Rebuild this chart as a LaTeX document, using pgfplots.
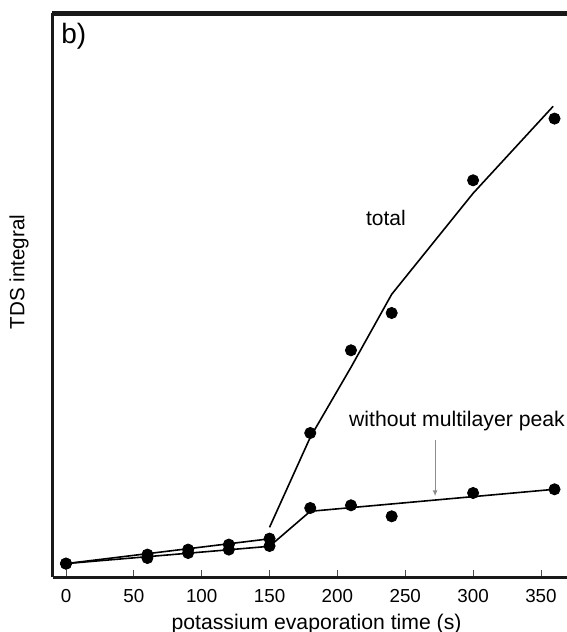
\documentclass[border=0pt]{standalone}
\usepackage{fontspec}
\setmainfont{Liberation Sans}
\usepackage{pgfplots}
\pgfplotsset{compat=1.18}
\usetikzlibrary{arrows.meta}
\definecolor{frame}{rgb}{0.1,0.1,0.1}
\begin{document}
\begin{tikzpicture}
\begin{axis}[
  name=ax,
  scale only axis, width=257.15pt, height=282pt,
  xmin=-9.8, xmax=369.2, ymin=0, ymax=564,
  axis x line=box,
  axis y line=left,
  y axis line style={-},
  axis line style={line width=1.4pt, color=frame},
  xtick={0,50,...,350}, ytick=\empty,
  xtick pos=left,
  tick align=inside, major tick length=3.5pt,
  xtick style={line width=0.45pt, color=black!70},
  /pgf/number format/assume math mode=true,
  ticklabel style={font=\fontsize{9.4}{11}\selectfont},
  xticklabel style={anchor=base, yshift=-12.5pt},
  xlabel={potassium evaporation time (s)},
  xlabel style={at={(axis description cs:0.513,-0.0922)}, anchor=base, font=\fontsize{10.6}{12}\selectfont},
  ylabel={TDS integral},
  ylabel style={at={(axis description cs:-0.0655,0.541)}, anchor=center, font=\fontsize{10.3}{12}\selectfont},
  clip=false,
]
% top frame band
\addplot[fill=frame, draw=none] coordinates {(-10.3,561.4) (369.2,561.4) (369.2,566.6) (-10.3,566.6)} -- cycle;
% fitted lines
\addplot[black, line width=0.8pt] coordinates {(0,13.7) (150,31) (180,66) (360,88)};
\addplot[black, line width=0.8pt] coordinates {(0,13.7) (150,38.5)};
\addplot[black, line width=0.8pt] coordinates {(150,50) (180,140) (210,210) (240,283) (300,384) (359,471)};
% data: without multilayer peak
\addplot[only marks, mark=*, mark size=2.8pt, black] coordinates {
 (0,13.7) (60,19.3) (90,24.3) (120,27.7) (150,31.3) (180,69.3) (210,72) (240,61) (300,84.3) (360,88)};
% data: total
\addplot[only marks, mark=*, mark size=2.8pt, black] coordinates {
 (0,13.7) (60,22.7) (90,27.7) (120,32.7) (150,38.7) (180,144.3) (210,227) (240,264.3) (300,397) (360,458.7)};
% arrow
\addplot[black!45, line width=0.6pt, -{Latex[length=3pt,width=2.5pt]}] coordinates {(272,137) (272,81)};
\node[anchor=base west, inner sep=0, font=\fontsize{14}{16}\selectfont] at (axis cs:-3.7,533.3) {b)};
\node[anchor=base, inner sep=0, font=\fontsize{10.5}{12}\selectfont] at (axis cs:235.8,351.3) {total};
\node[anchor=base, inner sep=0, font=\fontsize{10.6}{12}\selectfont] at (axis cs:288.1,150.6) {without multilayer peak};
\end{axis}
\pgfresetboundingbox
\path[use as bounding box] ([xshift=-26.35pt,yshift=-27.35pt]ax.south west) rectangle ([yshift=6.65pt]ax.north east);
\end{tikzpicture}
\end{document}
